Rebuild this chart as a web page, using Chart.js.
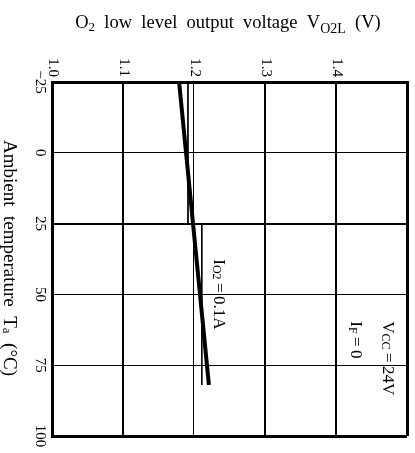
<!DOCTYPE html>
<html>
<head>
<meta charset="utf-8">
<script src="https://cdn.jsdelivr.net/npm/chart.js@4"></script>
<style>
  html, body { margin: 0; padding: 0; background: #fff; }
  #wrap { width: 415px; height: 453px; position: relative; }
</style>
</head>
<body>
<div id="wrap"><canvas id="chart"></canvas></div>
<script>
// voltage axis (top) and temperature axis (left, downward)
const voltTicks = [1.0, 1.1, 1.2, 1.3, 1.4];
const voltLabels = ['1.0', '1.1', '1.2', '1.3', '1.4'];
const tempTicks = [-25, 0, 25, 50, 75, 100];
const tempLabels = ['\u221225', '0', '25', '50', '75', '100'];

// I_O2 = 0.1A curve and the thin side lines
const mainVolt = [1.179, 1.221];
const mainTemp = [-25, 82];
const leftVolt = [1.1915, 1.1915];
const leftTemp = [-25, 25];
const rightVolt = [1.211, 1.211];
const rightTemp = [25, 82];

const serif = '"Liberation Serif", "DejaVu Serif", serif';

function pts(xs, ys) {
  return xs.map((v, i) => ({ x: v, y: ys[i] }));
}

// draws rotated (clockwise) text made of pieces: [text, size, dy]
function drawRun(ctx, x, y, pieces, align) {
  ctx.save();
  ctx.translate(x, y);
  ctx.rotate(Math.PI / 2);
  ctx.textBaseline = 'middle';
  ctx.textAlign = 'left';
  let total = 0;
  pieces.forEach(p => {
    ctx.font = p[1] + 'px ' + serif;
    total += ctx.measureText(p[0]).width;
  });
  let pos = align === 'center' ? -total / 2 : (align === 'right' ? -total : 0);
  pieces.forEach(p => {
    ctx.font = p[1] + 'px ' + serif;
    ctx.fillText(p[0], pos, p[2] || 0);
    pos += ctx.measureText(p[0]).width;
  });
  ctx.restore();
}

const labelPlugin = {
  id: 'labels',
  afterDraw(chart) {
    const ctx = chart.ctx;
    const xs = chart.scales.x;
    const ys = chart.scales.y;
    const area = chart.chartArea;
    ctx.fillStyle = '#000';

    voltTicks.forEach((v, i) => {
      drawRun(ctx, xs.getPixelForValue(v) + 1, area.top - 5, [[voltLabels[i], 15]], 'right');
    });
    tempTicks.forEach((t, i) => {
      drawRun(ctx, area.left - 12, ys.getPixelForValue(t), [[tempLabels[i], 15]], 'center');
    });

    // top title
    ctx.save();
    ctx.textBaseline = 'alphabetic';
    const parts = [['O', 18.5, 0], ['2', 13, 3], ['  low  level  output  voltage  V', 18.5, 0], ['O2L', 14, 5], ['  (V)', 18.5, 0]];
    let w = 0;
    parts.forEach(p => { ctx.font = p[1] + 'px ' + serif; w += ctx.measureText(p[0]).width; });
    let px = 228 - w / 2;
    parts.forEach(p => {
      ctx.font = p[1] + 'px ' + serif;
      ctx.fillText(p[0], px, 28 + p[2]);
      px += ctx.measureText(p[0]).width;
    });
    ctx.restore();

    // left title
    drawRun(ctx, 9, 258, [['Ambient  temperature  T', 19, 0], ['a', 13, 3], ['  (\u00b0C)', 19, 0]], 'center');

    // annotations
    drawRun(ctx, xs.getPixelForValue(1.235), ys.getPixelForValue(50),
      [['I', 17, 0], ['O2', 12, 3], ['\u2009=\u20090.1A', 17, 0]], 'center');
    drawRun(ctx, xs.getPixelForValue(1.473), ys.getPixelForValue(59.5),
      [['V', 17, 0], ['CC', 12, 3], ['\u2009=\u200924V', 17, 0]], 'left');
    drawRun(ctx, xs.getPixelForValue(1.427), ys.getPixelForValue(59.5),
      [['I', 17, 0], ['F', 12, 3], ['\u2009=\u20090', 17, 0]], 'left');
  }
};

new Chart(document.getElementById('chart'), {
  type: 'line',
  data: {
    datasets: [
      { data: pts(mainVolt, mainTemp), borderColor: '#000', borderWidth: 4, pointRadius: 0 },
      { data: pts(leftVolt, leftTemp), borderColor: '#000', borderWidth: 1, pointRadius: 0 },
      { data: pts(rightVolt, rightTemp), borderColor: '#000', borderWidth: 1, pointRadius: 0 }
    ]
  },
  options: {
    responsive: true,
    maintainAspectRatio: false,
    animation: false,
    layout: { padding: { left: 52, top: 82, right: 8, bottom: 17 } },
    plugins: { legend: { display: false }, tooltip: { enabled: false } },
    scales: {
      x: {
        type: 'linear',
        position: 'top',
        min: 1.0,
        max: 1.5,
        ticks: { display: false, stepSize: 0.1 },
        grid: {
          color: '#000',
          drawTicks: false,
          lineWidth: c => {
            const v = Math.round(c.tick.value * 10);
            if (v === 10 || v === 15) return 3;
            return v === 12 ? 1 : 2;
          }
        },
        border: { display: true, color: '#000', width: 3 }
      },
      y: {
        type: 'linear',
        reverse: true,
        min: -25,
        max: 100,
        ticks: { display: false, stepSize: 25 },
        grid: {
          color: '#000',
          drawTicks: false,
          lineWidth: c => {
            const v = c.tick.value;
            if (v === -25 || v === 100) return 3;
            return v === 25 ? 2 : 1;
          }
        },
        border: { display: true, color: '#000', width: 3 }
      }
    }
  },
  plugins: [labelPlugin]
});
</script>
</body>
</html>
